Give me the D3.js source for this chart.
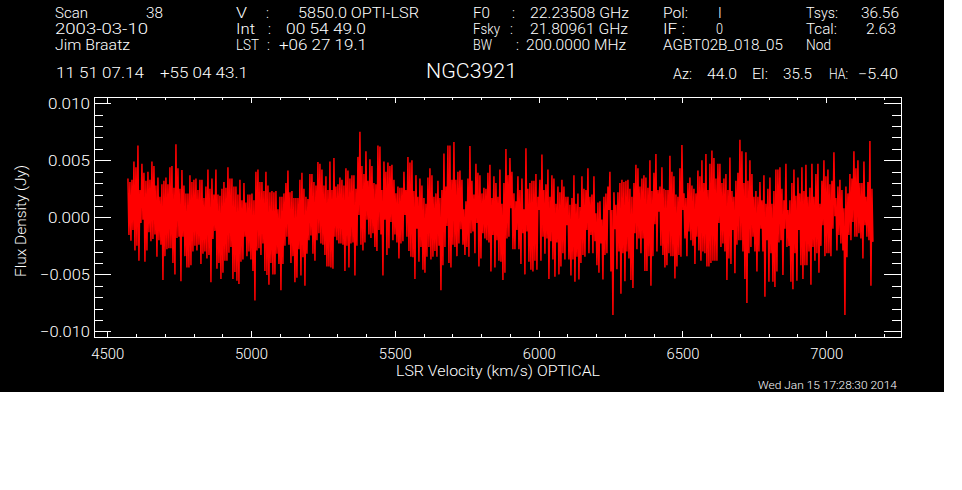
<!DOCTYPE html>
<html><head><meta charset="utf-8">
<script src="https://cdn.jsdelivr.net/npm/d3@7/dist/d3.min.js"></script>
<style>html,body{margin:0;padding:0;background:#fff}svg{display:block}text{fill:#fff;font-family:Roboto,"Liberation Sans",sans-serif;font-weight:300}</style>
</head><body><svg id="c" width="962" height="490"></svg>
<script>
// Flux readings in mJy, upper and lower excursions of each 2-pixel column
const peaksLow=[3.4,3.1,3.3,4.9,4.4,6.3,2.4,4.7,3.9,3.2,4.0,3.3,4.9,4.5,2.8,3.5,1.8,2.9,3.2,3.5,2.9,4.4,4.5,2.6,6.4,4.3,2.5,4.15,2.8,2.1,2.1,3.7,3.1,3.3,3.4,2.4,3.3,3.3,1.7,2.7,4.2,2.5,3.4,2.0,4.2,2.0,1.9,2.5,3.1,2.6,4.4,3.4,3.4,2.7,2.7,2.0,3.3,1.5,3.0,1.3,2.0,2.0,2.1,1.5,4.0,4.2,3.1,3.1,2.3,4.0,2.8,2.2,2.3,2.2,2.3,0.7,1.8,1.8,2.1,3.0,4.1,2.2,2.3,1.7,1.7,1.7,3.3,3.9,2.5,1.8,1.6,3.8,3.8,3.1,2.8,4.85,4.7,4.2,2.8,3.6,2.4,4.9,2.4,5.2,2.7,2.9,3.5,3.3,2.8,4.3,4.1,3.4,3.7,3.7,2.5,5.3,7.5,4.5,3.8,5.8,3.2,5.1];
const troughsLow=[-1.55,-2.05,-1.1,-2.9,-2.5,-3.8,-0.5,-0.2,-3.9,-2.9,-1.3,-2.1,-1.9,-1.5,-3.45,-2.0,-2.4,-5.5,-3.4,-2.8,-2.7,-2.7,-4.0,-5.0,-1.8,-1.7,-5.6,-1.7,-3.4,-4.4,-4.4,-4.2,-3.0,-2.5,-2.9,-2.4,-4.1,-3.2,-3.0,-3.6,-3.3,-5.7,-1.9,-1.2,-4.5,-4.0,-5.4,-4.85,-3.8,-3.8,-3.1,-2.6,-5.4,-4.8,-5.55,-5.85,-3.9,-3.7,-1.7,-3.4,-3.0,-3.7,-4.7,-7.3,-2.9,-2.7,-3.3,-2.3,-4.7,-5.05,-5.9,-4.0,-5.0,-5.0,-3.2,-4.1,-6.4,-4.1,-2.5,-1.7,-2.4,-4.0,-3.4,-5.7,-5.3,-2.8,-5.1,-3.5,-6.0,-3.2,-2.0,-1.6,-3.2,-3.8,-2.0,-1.4,-2.3,-2.4,-3.3,-4.3,-4.3,-4.4,-4.5,-1.7,-2.0,-2.3,-2.3,-2.4,-4.7,-2.5,-4.4,-2.3,-2.2,-5.1,-2.5,0.2,-2.4,-2.9,-2.2,-0.2,-1.5,-1.8];
const peaksMid=[4.5,3.0,2.9,6.3,6.2,2.4,4.9,4.0,4.8,4.5,4.6,3.3,2.1,2.7,2.6,2.6,4.0,2.4,5.3,4.8,5.0,2.3,3.7,1.8,3.4,2.8,1.7,1.2,3.5,4.3,3.7,1.8,2.1,3.2,1.7,2.4,5.6,2.7,6.3,6.3,3.3,6.6,3.3,4.0,4.1,3.3,0.7,1.4,3.4,6.25,3.2,2.0,4.7,3.9,3.7,2.1,2.6,2.5,3.9,4.6,1.7,3.6,3.0,1.8,4.2,1.2,3.0,6.0,3.7,5.2,4.0,2.1,1.4,3.6,2.4,3.4,0.7,6.05,2.5,3.0,3.2,3.2,3.8,1.8,3.3,5.5,2.4,2.9,4.2,1.8,3.7,3.4,1.2,2.7,2.2,3.3,2.7,1.8,1.8,1.1,1.7,3.7,1.2,2.1,0.9,3.6,2.5,2.4,4.3,1.8,2.0,3.6,0.35,1.3,1.4,-0.2,1.8,2.1,2.7,4.0,0.65,2.2,1.1,2.2,3.0,3.3,3.1,3.2,3.3,2.5,1.8,3.0,4.6,4.3,2.7,3.4];
const troughsMid=[-1.4,-2.6,-2.95,-1.1,-1.5,-5.1,-0.2,-3.3,-2.7,-0.4,-2.0,-1.5,-2.2,-3.6,-2.3,-2.1,0.2,-1.7,-2.95,-3.45,-3.5,-5.4,-1.0,-3.9,-2.6,-4.6,-4.85,-3.45,-2.6,-3.7,-3.45,-2.95,-3.45,-2.5,-6.4,-4.2,-2.6,-0.75,-4.0,-4.4,-2.4,-2.6,-3.4,-2.3,-1.05,-2.4,-3.3,-2.6,-3.45,-1.4,-1.25,-3.15,-0.5,-4.3,-3.6,-1.4,-1.85,-2.0,-2.2,-4.75,-1.55,-4.4,-2.0,-3.8,-3.9,-5.5,-4.85,-1.85,-1.7,0.8,-2.8,-2.8,-1.1,-2.8,-4.1,-1.4,-5.0,-1.25,-3.9,-4.6,-4.75,-3.8,-4.6,0.65,-3.8,-1.7,-3.2,-1.85,-5.4,-2.1,-3.7,-5.2,-2.2,-5.0,-4.3,-3.15,-3.7,-0.7,-3.7,-5.1,-3.7,-5.65,-3.45,-5.45,-4.0,-3.3,-3.45,-1.1,-3.15,-1.55,-3.15,-2.1,-4.2,-4.85,-2.3,-5.45,-3.3,-3.15,0.65,-4.75,-8.55,-1.05,-4.55,-3.0,-6.7,-3.15,-5.6,-3.0,-3.6,-5.5,-6.2,-1.4,-2.8,-1.85,-3.15,-1.85];
const peaksHigh=[3.7,3.5,2.6,5.0,2.3,3.9,5.55,2.4,2.7,4.4,2.5,2.4,2.4,5.4,4.0,3.6,2.0,1.8,4.3,6.35,2.1,1.7,3.0,3.5,2.8,2.5,2.1,4.1,3.6,5.0,3.0,5.55,2.4,4.7,5.85,5.2,3.4,4.7,4.7,3.0,3.4,3.8,2.4,5.25,2.3,1.8,3.2,3.9,6.8,5.8,3.0,5.7,3.2,5.0,3.8,1.8,2.3,1.8,3.1,1.5,3.7,1.2,2.5,3.5,1.2,2.3,4.2,4.2,4.4,2.5,1.5,4.7,0.65,1.5,3.0,4.2,1.9,3.5,2.1,4.4,2.3,4.6,1.8,2.6,4.7,1.8,3.8,4.7,1.2,3.2,5.0,3.6,4.2,2.9,3.2,5.7,1.7,2.7,3.3,2.4,0.8,2.7,2.1,3.8,3.4,5.8,4.3,5.0,3.0,3.0,4.9,1.8,3.1,6.7,2.5];
const troughsHigh=[-4.7,-4.7,-3.4,-6.0,-3.4,-0.6,-3.0,0.5,-2.5,-3.3,-4.4,-4.2,-3.15,-3.4,-3.4,-5.35,-4.3,-3.3,-3.45,0.65,-1.85,-3.4,-1.25,-2.0,-2.5,-4.1,-1.7,-2.9,-3.8,-3.0,-3.15,-4.3,-4.3,-4.0,-3.8,-3.8,-3.8,-0.5,-2.6,-2.3,-3.0,-5.5,-3.6,-4.1,-1.1,-4.9,-2.4,-2.0,-2.0,-3.0,-5.4,-7.5,-3.15,-2.6,-1.7,-3.0,-4.75,-3.0,-1.0,-3.0,-6.95,-2.0,-5.65,-3.15,-5.65,-6.1,-4.75,-2.2,-2.0,-5.05,-1.0,-2.6,-2.5,-5.65,-6.3,-3.15,-5.55,-1.1,-4.2,-5.4,-4.2,-4.2,-3.0,-5.9,-2.6,-3.8,-3.15,-4.85,-2.5,-0.7,-3.4,-3.15,-3.15,-3.4,-1.0,0.1,-2.9,-1.55,-2.3,-2.9,-8.55,-3.5,-1.55,-2.0,-0.4,-1.7,-1.7,-1.4,-1.85,-3.6,-0.7,-1.7,-2.0,-6.0,-2.15];
const firstVelocity=4572, channelWidth=3.477;
const xMajor=[4500,5000,5500,6000,6500,7000];
const xMinor=d3.range(4500,7201,100);
const yMajor=[-0.010,-0.005,0,0.005,0.010];
const yMinor=d3.range(-10,11).map(d=>d/1000);
const xTitle="LSR Velocity (km/s) OPTICAL", yTitle="Flux Density (Jy)", stamp="Wed Jan 15 17:28:30 2014";

// Header text: string, left, baseline, fitted width, font size
const header=[
["Scan",55,18,33,14],["38",146,18,17,14],["2003-03-10",55,34,93,14],["Jim Braatz",55,50,75,14],
["V",236,18,11,14],[":",266,18,0,14],["5850.0 OPTI-LSR",298,18,121,14],
["Int",236,34,19,14],[":",268,34,0,14],["00 54 49.0",286,34,80,14],
["LST",236,50,23,14],[":",267,50,0,14],["+06 27 19.1",279,50,88,14],
["F0",473,18,17,14],[":",512,18,0,14],["22.23508 GHz",530,18,99,14],
["Fsky",473,34,27,14],[":",510,34,0,14],["21.80961 GHz",530,34,98,14],
["BW",473,50,19,14],[":",516,50,0,14],["200.0000 MHz",526,50,100,14],
["Pol:",663,18,25,14],["I",718,18,0,14],["IF :",663,34,22,14],["0",716,34,7,14],["AGBT02B_018_05",663,50,120,14],
["Tsys:",806,18,32,14],["36.56",861,18,38,14],["Tcal:",806,34,31,14],["2.63",866,34,30,14],["Nod",806,50,25,14],
["11 51 07.14",56,78,88,14],["+55 04 43.1",160,78,88,14],
["NGC3921",426,78,91,20],
["Az:",673,79,19,14],["44.0",707,79,30,14],["El:",752,79,16,14],["35.5",783,79,29,14],["HA:",829,79,19,14],["\u22125.40",858,79,40,14]
];

const peaks=[...peaksLow,...peaksMid,...peaksHigh], troughs=[...troughsLow,...troughsMid,...troughsHigh];
const flux=d3.merge(peaks.map((p,i)=>[p,troughs[i]]));

const svg=d3.select("#c");
svg.append("rect").attr("width",944).attr("height",392).attr("fill","#000");
const L=94,R=901,T=97,B=337;
const x=d3.scaleLinear().domain([4454,7260]).range([L,R]);
const y=d3.scaleLinear().domain([-0.01049,0.01055]).range([B,T]);

const line=d3.line().x((d,i)=>x(firstVelocity+i*channelWidth)).y(d=>y(d/1000));
svg.append("path").datum(flux).attr("d",line).attr("fill","none").attr("stroke","#f00")
  .attr("stroke-width",1.5).attr("stroke-linejoin","bevel");

function axis(gen,vals,size,tx,ty){
  const g=svg.append("g").attr("transform",`translate(${tx},${ty})`)
    .call(gen.tickValues(vals).tickSize(size).tickFormat(""));
  g.selectAll("line").attr("stroke","#fff").attr("shape-rendering","crispEdges");
  g.select(".domain").attr("stroke","#fff").attr("shape-rendering","crispEdges");
  return g;
}
axis(d3.axisBottom(x),xMinor,-3,0,B); axis(d3.axisBottom(x),xMajor,-6,0,B);
axis(d3.axisTop(x),xMinor,-3,0,T);    axis(d3.axisTop(x),xMajor,-6,0,T);
axis(d3.axisLeft(y),yMinor,-9,L,0);   axis(d3.axisLeft(y),yMajor,-17,L,0);
axis(d3.axisRight(y),yMinor,-9,R,0);  axis(d3.axisRight(y),yMajor,-17,R,0);

function fit(s,xp,yp,w,fs){
  const t=svg.append("text").attr("x",xp).attr("y",yp).attr("font-size",fs).text(s);
  if(w>0) t.attr("textLength",w).attr("lengthAdjust","spacingAndGlyphs");
  return t;
}
header.forEach(h=>fit(h[0],h[1],h[2],h[3],h[4]));

xMajor.forEach(v=>fit(String(v),x(v)-16,359,33,15));
yMajor.forEach(v=>{
  const s=(v<0?"\u2212":"")+Math.abs(v).toFixed(3);
  const w=v<0?50:42;
  fit(s,90-w,y(v)+6,w,15);
});
fit(xTitle,396,376,204,15);
fit(stamp,758,389,139,10.5);
fit(yTitle,0,0,112,15).attr("transform","translate(26,277) rotate(-90)");
</script></body></html>
